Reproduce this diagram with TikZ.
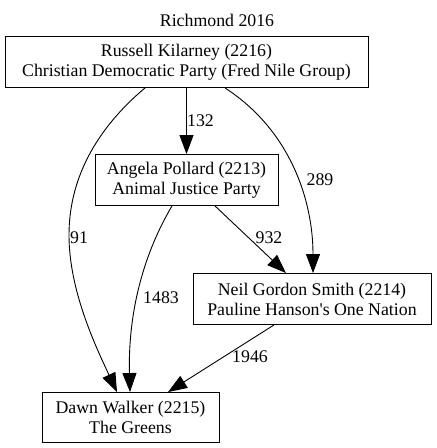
\documentclass[tikz,border=0pt]{standalone}
\usepackage{fontspec}
\setmainfont{Liberation Serif}
\usetikzlibrary{arrows.meta}
\tikzset{
  box/.style={draw, line width=0.9pt, rectangle, inner sep=0pt, align=center,
    font=\fontsize{17.8}{20}\selectfont},
  lbl/.style={inner sep=0pt, font=\fontsize{17.8}{20}\selectfont},
  conn/.style={line width=0.9pt, -{Triangle[length=19pt,width=14pt]}}
}
\begin{document}
\begin{tikzpicture}[x=1pt,y=1pt]
\useasboundingbox (0,0) rectangle (437,-448);
\node[lbl] (title) at (217,-20) {Richmond 2016};
\node[box, minimum width=363pt, minimum height=51pt] (russ) at (186.5,-62)
  {Russell Kilarney (2216)\\Christian Democratic Party (Fred Nile Group)};
\node[box, minimum width=183pt, minimum height=51pt] (ang) at (186.5,-180)
  {Angela Pollard (2213)\\Animal Justice Party};
\node[box, minimum width=238pt, minimum height=51pt] (neil) at (312,-299)
  {Neil Gordon Smith (2214)\\Pauline Hanson\textquotesingle s One Nation};
\node[box, minimum width=177pt, minimum height=50pt] (dawn) at (130.5,-417.5)
  {Dawn Walker (2215)\\The Greens};

% Russell -> Angela
\draw[conn] (russ.south) -- (ang.north);
% Russell -> Dawn
\draw[conn] ([xshift=-41.5pt]russ.south) .. controls (95,-130) and (69,-180) .. (69,-235)
  .. controls (69,-290) and (95,-345) .. ([xshift=-13.5pt]dawn.north);
% Russell -> Neil
\draw[conn] ([xshift=38.5pt]russ.south) .. controls (290,-130) and (313,-200) .. ([xshift=1pt]neil.north);
% Angela -> Neil
\draw[conn] ([xshift=28.5pt]ang.south) -- ([xshift=-26pt]neil.north);
% Angela -> Dawn
\draw[conn] ([xshift=-14.5pt]ang.south) .. controls (140,-260) and (128,-320) .. ([xshift=-0.5pt]dawn.north);
% Neil -> Dawn
\draw[conn] ([xshift=-38pt]neil.south) -- ([xshift=37.5pt]dawn.north);

\node[lbl] (l132) at (200.5,-121) {132};
\node[lbl] (l289) at (320,-180) {289};
\node[lbl] (l91) at (79,-238) {91};
\node[lbl] (l932) at (269,-238) {932};
\node[lbl] (l1483) at (161,-298) {1483};
\node[lbl] (l1946) at (250,-357) {1946};
\end{tikzpicture}
\end{document}
